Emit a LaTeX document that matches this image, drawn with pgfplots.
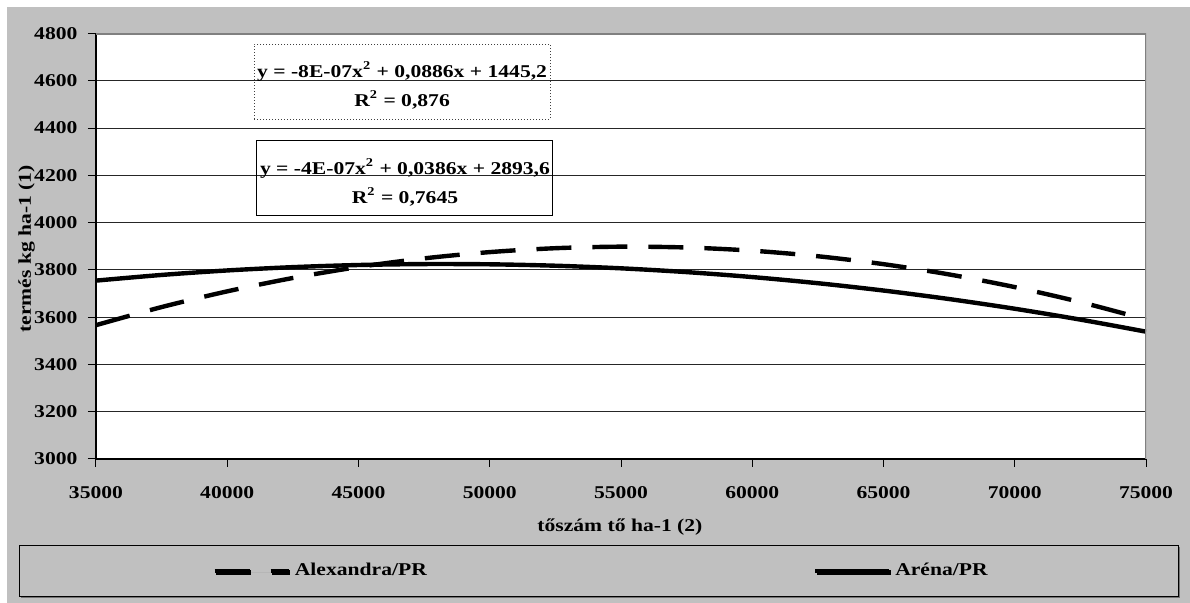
\documentclass[border=0pt]{standalone}
\usepackage{pgfplots}
\pgfplotsset{compat=1.18}
\usepackage{pgfplotstable}
\usepackage{fontspec}
\setmainfont{Liberation Serif}[FakeStretch=1.2]
\usetikzlibrary{shadows,backgrounds}
\definecolor{panelgray}{HTML}{C0C0C0}
\definecolor{bordergray}{HTML}{808080}

\pgfplotstableread{
x y
35000 3566.2
37500 3642.7
40000 3709.2
42500 3765.7
45000 3812.2
47500 3848.7
50000 3875.2
52500 3891.7
55000 3898.2
57500 3894.7
60000 3881.2
62500 3857.7
65000 3824.2
67500 3780.7
70000 3727.2
72500 3663.7
75000 3590.2
}\alexandra

\pgfplotstableread{
x y
35000 3754.6
37500 3778.6
40000 3797.6
42500 3811.6
45000 3820.6
47500 3824.6
50000 3823.6
52500 3817.6
55000 3806.6
57500 3790.6
60000 3769.6
62500 3743.6
65000 3712.6
67500 3676.6
70000 3635.6
72500 3589.6
75000 3538.6
}\arena

\begin{document}
\begin{tikzpicture}[font=\bfseries\fontsize{9}{11}\selectfont]
\begin{axis}[
  scale only axis, width=525pt, height=212.75pt,
  xmin=35000, xmax=75000, ymin=3000, ymax=4800,
  xtick={35000,40000,...,75000}, ytick={3000,3200,...,4800},
  ymajorgrids, major grid style={black!85, line width=0.5pt},
  axis x line*=bottom, axis y line*=left,
  axis line style={black, line width=0.6pt, -},
  tick align=outside, major tick length=4pt,
  tick style={black, line width=0.5pt},
  scaled ticks=false,
  /pgf/number format/1000 sep={},
  /pgf/number format/assume math mode=true,
  ticklabel style={font=\bfseries\fontsize{9}{11}\selectfont},
  xticklabel style={yshift=-6pt},
  yticklabel style={xshift=-1.75pt},
  xlabel={tőszám tő ha-1 (2)}, ylabel={termés kg ha-1 (1)},
  xlabel style={at={(axis description cs:0.499,-0.161)}, anchor=center},
  ylabel style={at={(axis description cs:-0.066,0.4935)}, anchor=center},
  axis background/.style={fill=white},
  legend columns=2,
  legend image code/.code={\draw[#1] (0pt,0pt) -- (37pt,0pt);},
  legend style={
    at={(-0.07333,-0.3243)}, anchor=south west,
    draw=black, line width=0.5pt, fill=panelgray,
    drop shadow={shadow xshift=0.8pt, shadow yshift=-0.8pt, fill=black!55, opacity=1},
    inner xsep=96.5pt, inner ysep=8.25pt,
    nodes={inner xsep=0pt, inner ysep=0pt, text width=45pt, text height=7pt, text depth=2pt, anchor=west, font=\bfseries\fontsize{9}{11}\selectfont},
    /tikz/every odd column/.append style={column sep=2pt},
    /tikz/every even column/.append style={column sep=214pt},
  },
]
\addplot[black, line width=2.2pt, dash pattern=on 17.5pt off 10.5pt, smooth] table[x=x,y=y] {\alexandra};
\addlegendentry{Alexandra/PR}
\addplot[black, line width=2.2pt, smooth] table[x=x,y=y] {\arena};
\addlegendentry{Aréna/PR}
\coordinate (O) at (rel axis cs:0,0);
\draw[bordergray, line width=1.25pt] (rel axis cs:0,1) -- (rel axis cs:1,1) -- (rel axis cs:1,0);
\node[draw=black!75, densely dotted, line width=0.5pt, minimum width=148pt, minimum height=37.5pt, inner sep=0pt] at (axis cs:46660,4596) {};
\node[align=center, inner sep=0pt, yshift=-2pt, font=\bfseries\fontsize{9}{14.5}\selectfont] at (axis cs:46660,4596) {y = -8E-07x\textsuperscript{2} + 0,0886x + 1445,2\\R\textsuperscript{2} = 0,876};
\node[draw=black, line width=0.5pt, minimum width=148pt, minimum height=37.5pt, inner sep=0pt] at (axis cs:46770,4188) {};
\node[align=center, inner sep=0pt, yshift=-2pt, font=\bfseries\fontsize{9}{14.5}\selectfont] at (axis cs:46770,4188) {y = -4E-07x\textsuperscript{2} + 0,0386x + 2893,6\\R\textsuperscript{2} = 0,7645};
\end{axis}
\begin{scope}[on background layer, shift={(O)}, x=1pt, y=1pt]
\fill[white] (-48,-72) rectangle (547,229.5);
\fill[panelgray] (-44.5,-72) rectangle (547,226);
\end{scope}
\pgfresetboundingbox
\path[use as bounding box, shift={(O)}, x=1pt, y=1pt] (-48,-72) rectangle (547,229.5);
\end{tikzpicture}
\end{document}
